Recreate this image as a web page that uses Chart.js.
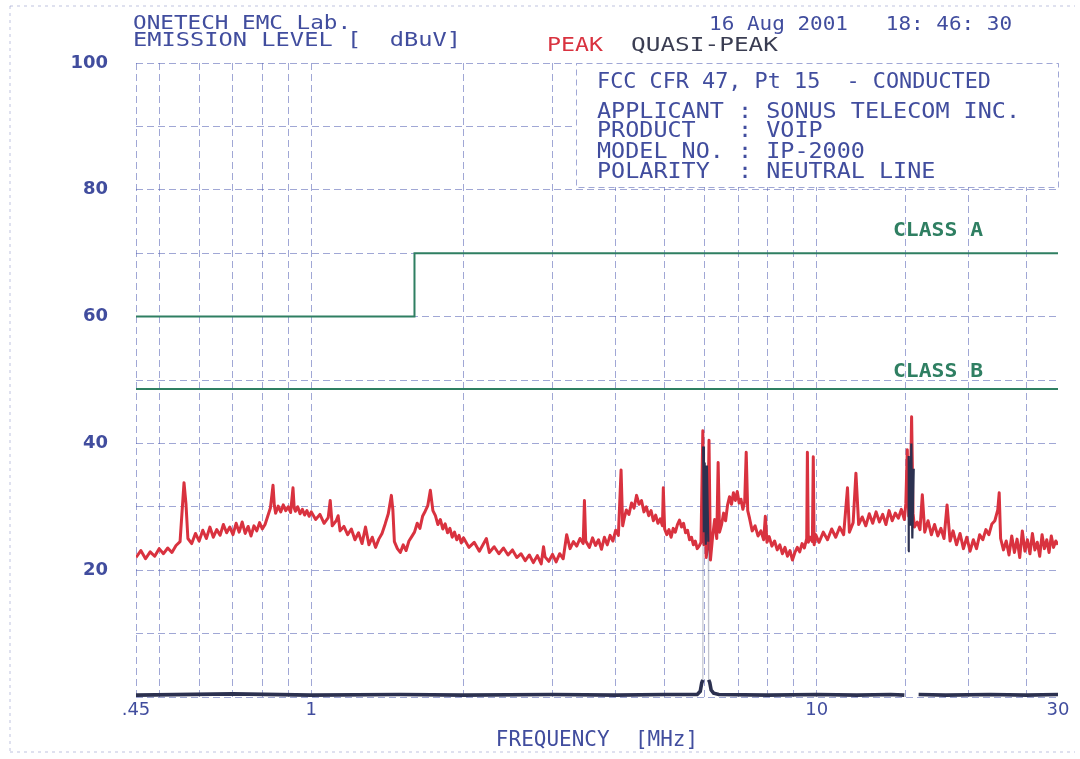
<!DOCTYPE html>
<html><head><meta charset="utf-8">
<script src="https://cdn.jsdelivr.net/npm/chart.js@4.4.1/dist/chart.umd.min.js"></script>
<style>html,body{margin:0;padding:0;background:#fff;}#wrap{width:1080px;height:759px;}</style>
</head><body><div id="wrap"><canvas id="c" width="1080" height="759"></canvas></div>
<script>
// ---------- data ----------
const peakFreq = [0.45,0.46,0.47,0.48,0.49,0.50,0.51,0.52,0.53,0.54,0.55,0.56,0.565,0.57,0.58,0.59,0.60,0.61,0.62,0.63,0.64,0.65,0.66,0.67,0.68,0.69,0.70,0.71,0.72,0.73,0.74,0.75,0.76,0.77,0.78,0.79,0.80,0.81,0.82,0.83,0.84,0.845,0.85,0.86,0.87,0.88,0.89,0.90,0.91,0.92,0.925,0.93,0.94,0.95,0.96,0.97,0.98,0.99,1.00,1.02,1.04,1.06,1.08,1.09,1.10,1.12,1.13,1.14,1.16,1.18,1.20,1.22,1.24,1.26,1.28,1.30,1.32,1.34,1.36,1.38,1.40,1.42,1.44,1.45,1.46,1.48,1.50,1.52,1.54,1.56,1.58,1.60,1.62,1.64,1.66,1.68,1.70,1.72,1.74,1.76,1.78,1.80,1.82,1.84,1.86,1.88,1.90,1.92,1.94,1.96,1.98,2.00,2.05,2.10,2.15,2.22,2.25,2.30,2.35,2.40,2.45,2.50,2.55,2.60,2.65,2.70,2.75,2.80,2.85,2.88,2.90,2.95,3.00,3.05,3.10,3.15,3.20,3.25,3.30,3.35,3.40,3.45,3.47,3.49,3.55,3.60,3.65,3.70,3.75,3.80,3.85,3.90,3.95,4.00,4.05,4.10,4.13,4.16,4.20,4.25,4.30,4.35,4.40,4.45,4.50,4.55,4.60,4.65,4.70,4.75,4.80,4.85,4.90,4.95,4.97,5.00,5.05,5.10,5.15,5.20,5.25,5.30,5.35,5.40,5.45,5.50,5.55,5.60,5.65,5.70,5.75,5.80,5.85,5.90,5.95,5.98,6.01,6.04,6.08,6.12,6.16,6.22,6.28,6.34,6.38,6.42,6.48,6.54,6.60,6.66,6.72,6.78,6.84,6.90,6.96,7.02,7.08,7.14,7.20,7.25,7.30,7.36,7.45,7.55,7.65,7.75,7.85,7.91,7.97,8.05,8.15,8.25,8.35,8.45,8.55,8.65,8.75,8.85,8.95,9.05,9.15,9.25,9.35,9.45,9.55,9.58,9.62,9.70,9.80,9.84,9.88,9.95,10.1,10.3,10.5,10.7,10.9,11.1,11.3,11.5,11.6,11.8,11.95,12.1,12.3,12.5,12.7,12.9,13.1,13.3,13.5,13.7,13.9,14.1,14.3,14.5,14.7,14.9,15.0,15.1,15.2,15.3,15.4,15.5,15.6,15.8,16.0,16.17,16.35,16.6,16.85,17.1,17.35,17.6,17.85,18.1,18.35,18.6,18.9,19.2,19.5,19.8,20.1,20.4,20.7,21.0,21.3,21.6,21.9,22.2,22.5,22.8,22.95,23.1,23.4,23.7,24.0,24.3,24.6,24.9,25.2,25.5,25.8,26.1,26.4,26.7,27.0,27.3,27.6,27.9,28.2,28.5,28.8,29.1,29.4,29.7,30.0];
const peakLevel = [22.0,23.1,21.8,22.9,22.2,23.4,22.6,23.5,22.8,23.9,24.5,33.8,30.5,25.0,24.2,25.8,24.6,26.3,25.0,26.8,25.2,26.4,25.5,27.2,25.9,26.8,25.6,27.4,26.0,27.6,25.8,26.9,25.4,27.0,26.2,27.5,26.5,27.2,28.5,29.8,33.4,30.2,29.0,30.1,29.2,30.3,29.4,30.0,29.1,33.0,29.8,29.3,30.0,28.9,29.6,28.7,29.4,28.5,29.2,28.0,28.8,27.4,28.3,31.0,27.0,27.8,28.6,26.2,26.9,25.6,26.5,24.8,25.9,24.2,26.8,24.0,25.2,23.6,24.9,25.8,27.3,28.9,31.8,29.5,24.5,23.4,22.8,24.0,23.1,24.6,25.3,26.0,27.4,26.6,28.5,29.3,30.2,32.6,29.4,28.6,27.2,28.0,26.5,27.3,25.9,26.6,25.2,26.0,24.8,25.5,24.3,25.1,23.6,24.4,23.0,25.0,22.8,23.7,22.6,23.5,22.4,23.2,22.0,22.6,21.5,22.4,21.2,22.3,21.0,23.7,22.1,21.4,22.5,21.3,22.6,21.8,25.6,23.4,24.5,23.8,25.0,24.2,31.0,24.6,23.6,25.1,23.9,24.8,23.3,25.2,24.0,25.5,24.6,26.3,25.5,35.8,27.0,28.2,29.5,28.8,30.6,29.8,31.8,30.4,31.0,29.2,30.0,28.6,29.4,27.8,28.7,27.4,28.1,27.0,33.0,26.5,25.6,26.4,25.2,26.6,26.0,27.2,27.9,26.8,27.4,25.9,26.3,24.8,25.2,24.0,24.6,23.4,23.8,24.4,42.0,24.0,35.5,22.0,23.5,40.5,21.6,25.2,28.0,25.0,37.0,26.0,27.2,29.0,27.8,30.3,31.6,30.4,32.2,31.0,32.4,30.6,31.2,29.6,30.8,38.6,29.4,28.2,26.2,27.0,25.4,26.2,24.8,28.5,24.4,25.3,23.8,24.6,23.2,24.0,22.6,23.6,22.2,23.1,21.6,22.8,23.6,22.9,24.2,23.5,25.0,38.6,24.4,25.2,24.5,37.9,24.0,25.6,24.4,26.0,24.8,26.5,25.2,26.8,25.6,33.0,26.0,27.5,35.3,27.2,28.4,27.0,28.9,27.4,29.2,27.6,28.8,27.2,29.4,27.8,29.0,28.2,29.6,28.0,30.5,39.0,28.5,30.0,44.2,29.0,26.8,27.6,26.4,31.9,26.0,27.8,25.6,27.2,25.4,26.6,25.0,30.3,24.6,26.2,24.0,25.8,23.4,25.2,23.0,24.8,23.4,25.6,24.8,26.4,25.6,27.3,27.8,29.5,32.2,25.0,23.2,24.6,22.4,25.4,22.8,24.9,22.0,26.2,23.0,24.8,22.6,25.8,23.2,24.4,22.2,25.6,23.4,24.8,22.8,25.4,23.6,24.6,24.0];
const qpFreq  = [0.45,0.7,1,1.5,2,3,4,5,5.8,5.88,5.92,5.95,5.96,5.98,6.0,6.03,6.06,6.1,6.11,6.14,6.18,6.25,6.4,8,10,12,14,14.9,15.0,15.15,15.2,15.3,15.38,15.45,15.55,15.65,15.8,15.9,18,22,26,30];
const qpLevel = [0.3,0.5,0.3,0.4,0.3,0.4,0.3,0.4,0.4,0.9,2.2,2.7,39.5,26,37,24,36.5,24.5,2.7,2.3,1.1,0.6,0.4,0.3,0.4,0.3,0.4,0.3,null,23,38,27,40,25,36,null,null,0.4,0.3,0.4,0.3,0.4];
const classAFreq  = [0.45, 1.6, 1.6, 30];
const classALevel = [60, 60, 70, 70];
const classBFreq  = [0.45, 30];
const classBLevel = [48.6, 48.6];
const xGridFreq = [0.45,0.5,0.6,0.7,0.8,0.9,1,2,3,4,5,6,7,8,9,10,15,20,26,30];
const xTickLabels = {0.45:'.45', 1:'1', 10:'10', 30:'30'};
const yTickLabels = [20, 40, 60, 80, 100];

// ---------- styling ----------
const BLUE = '#414d9e', RED = '#d9323f', DARK = '#3a3d52', GREEN = '#2f7f62';
const GRID = 'rgba(82,94,178,0.55)';
const MONO = '"DejaVu Sans Mono", "Liberation Mono", monospace';

function pts(fs, vs){ return fs.map((f,i)=>({x:f, y:vs[i]})); }

function drawText(ctx, str, x, y, px, color, targetW, weight){
  ctx.save();
  ctx.font = (weight||'normal') + ' ' + px + 'px ' + MONO;
  ctx.fillStyle = color; ctx.textBaseline = 'middle'; ctx.textAlign = 'left';
  const w = ctx.measureText(str).width;
  const sx = targetW ? targetW / w : 1;
  ctx.translate(x, y); ctx.scale(sx, 1);
  ctx.fillText(str, 0, 0);
  ctx.restore();
}

// quasi-peak segments: thick baseline, medium spikes, faint risers
function qpSegWidth(c){
  const a = c.p0.parsed.y, b = c.p1.parsed.y;
  if (a < 5 && b < 5) return 3.6;
  if (a > 15 && b > 15) return 2.2;
  return 1.2;
}
function qpSegColor(c){
  const a = c.p0.parsed.y, b = c.p1.parsed.y;
  if ((a < 5) !== (b < 5) && Math.abs(a - b) > 15) return 'rgba(50,55,90,0.3)';
  return '#2c3150';
}

const decor = {
  id: 'decor',
  beforeDraw(chart){
    const ctx = chart.ctx;
    ctx.save();
    ctx.fillStyle = '#fff'; ctx.fillRect(0,0,chart.width,chart.height);
    ctx.strokeStyle = 'rgba(110,120,185,0.45)'; ctx.lineWidth = 1; ctx.setLineDash([3,4]);
    ctx.beginPath();
    ctx.moveTo(10,6); ctx.lineTo(1075,6);
    ctx.moveTo(10,6); ctx.lineTo(10,752);
    ctx.moveTo(10,752); ctx.lineTo(1075,752);
    ctx.stroke();
    ctx.restore();
  },
  afterDraw(chart){
    const ctx = chart.ctx, ys = chart.scales.y, ca = chart.chartArea;
    drawText(ctx, 'ONETECH EMC Lab.', 133, 24, 20, BLUE, 218);
    drawText(ctx, 'EMISSION LEVEL [  dBuV]', 133, 41, 20, BLUE, 328);
    drawText(ctx, '16 Aug 2001   18: 46: 30', 709, 25, 20, BLUE, 303);
    drawText(ctx, 'PEAK', 547, 46, 20, RED, 56);
    drawText(ctx, 'QUASI-PEAK', 631, 46, 20, DARK, 147);
    // info box
    const bx = 576, by = ca.top, bw = ca.right - 576, bh = 124;
    ctx.save();
    ctx.fillStyle = '#fff'; ctx.fillRect(bx, by, bw, bh);
    ctx.strokeStyle = GRID; ctx.lineWidth = 1; ctx.setLineDash([6,4]);
    ctx.strokeRect(bx+0.5, by+0.5, bw, bh);
    ctx.restore();
    const cw = 14.1;
    drawText(ctx, 'FCC CFR 47, Pt 15  - CONDUCTED', 597, 83, 21, BLUE, 394);
    drawText(ctx, 'APPLICANT : SONUS TELECOM INC.', 597, 113, 21, BLUE, cw*30);
    drawText(ctx, 'PRODUCT   : VOIP', 597, 132, 21, BLUE, cw*16);
    drawText(ctx, 'MODEL NO. : IP-2000', 597, 153, 21, BLUE, cw*19);
    drawText(ctx, 'POLARITY  : NEUTRAL LINE', 597, 173, 21, BLUE, cw*24);
    // limit labels
    drawText(ctx, 'CLASS A', 893, ys.getPixelForValue(classALevel[3]) - 22, 20, GREEN, 90, 'bold');
    drawText(ctx, 'CLASS B', 893, ys.getPixelForValue(classBLevel[1]) - 17, 20, GREEN, 90, 'bold');
  }
};

new Chart(document.getElementById('c'), {
  type: 'line',
  data: {
    datasets: [
      { label: 'QUASI-PEAK', data: pts(qpFreq, qpLevel), borderColor: '#2c3150', borderWidth: 2.2, pointRadius: 0, tension: 0, spanGaps: false,
        segment: { borderWidth: qpSegWidth, borderColor: qpSegColor } },
      { label: 'PEAK', data: pts(peakFreq, peakLevel), borderColor: RED, borderWidth: 3, pointRadius: 0, tension: 0, borderJoinStyle: 'round' },
      { label: 'CLASS A', data: pts(classAFreq, classALevel), borderColor: GREEN, borderWidth: 2, pointRadius: 0, tension: 0 },
      { label: 'CLASS B', data: pts(classBFreq, classBLevel), borderColor: GREEN, borderWidth: 2, pointRadius: 0, tension: 0 }
    ]
  },
  options: {
    responsive: false, animation: false, events: [],
    layout: { padding: { top: 63, right: 22, left: 0, bottom: 0 } },
    plugins: { legend: { display: false }, tooltip: { enabled: false } },
    scales: {
      x: {
        type: 'logarithmic', min: 0.45, max: 30,
        afterBuildTicks: (ax) => { ax.ticks = xGridFreq.map(v => ({ value: v })); },
        afterFit: (ax) => { ax.height = 62; },
        grid: { color: (c) => (c.tick && c.tick.value === 30) ? 'rgba(0,0,0,0)' : GRID, lineWidth: 1, drawTicks: false },
        border: { display: false, dash: [7,4] },
        ticks: { autoSkip: false, maxRotation: 0, padding: 3, color: BLUE,
                 font: { family: '"DejaVu Sans", sans-serif', size: 18 },
                 callback: (v) => (xTickLabels[v] !== undefined ? xTickLabels[v] : '') },
        title: { display: true, text: 'FREQUENCY  [MHz]', color: BLUE,
                 font: { family: MONO, size: 21 }, padding: { top: 0, bottom: 6 } }
      },
      y: {
        type: 'linear', min: 0, max: 100,
        afterFit: (ax) => { ax.width = 136; },
        grid: { color: GRID, lineWidth: 1, drawTicks: false },
        border: { display: false, dash: [7,4] },
        ticks: { stepSize: 10, padding: 28, color: BLUE,
                 font: { family: '"DejaVu Sans", sans-serif', size: 18, weight: 'bold' },
                 callback: (v) => (yTickLabels.includes(v) ? String(v) : '') }
      }
    }
  },
  plugins: [decor]
});
</script>
</body></html>
